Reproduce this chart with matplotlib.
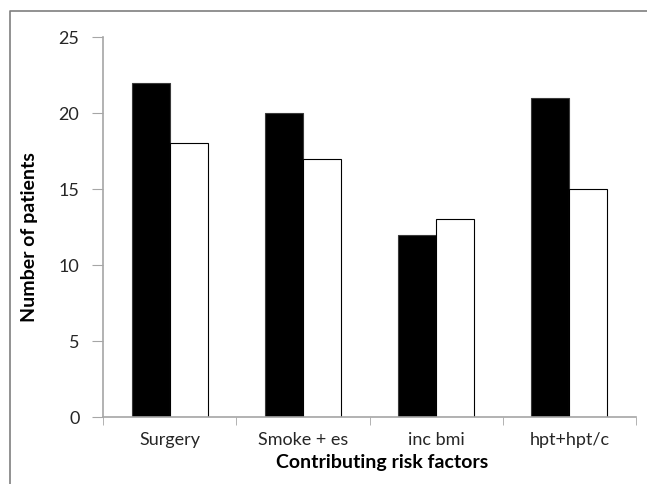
import matplotlib.pyplot as plt
import numpy as np
from matplotlib.lines import Line2D

categories = ['Surgery', 'Smoke + es', 'inc bmi', 'hpt+hpt/c']
black_vals = [22, 20, 12, 21]
white_vals = [18, 17, 13, 15]
y_ticks = [0, 5, 10, 15, 20, 25]

plt.rcParams['font.family'] = ['Lato', 'DejaVu Sans']

fig = plt.figure(figsize=(6.47, 4.85), dpi=100)
ax = fig.add_axes([103 / 647, 1 - 418 / 485, 533 / 647, 380 / 485])

# outer frame, only left and top edges are inside the picture
fx, fy = 10 / 647, 1 - 12 / 485
fig.lines.append(Line2D([fx, fx, 1.0], [0.0, fy, fy], transform=fig.transFigure,
                        color='#7f7f7f', linewidth=1.2))

x = np.arange(len(categories))
w = 0.286
ax.bar(x - w / 2, black_vals, w, color='black', edgecolor='#3a3a3a', linewidth=0.8)
ax.bar(x + w / 2, white_vals, w, color='white', edgecolor='black', linewidth=0.8)

ax.set_xlim(-0.5, len(categories) - 0.5)
ax.set_ylim(0, 25)
ax.set_yticks(y_ticks)
ax.set_xticks(x)
ax.set_xticklabels(categories)
ax.set_xticks(np.arange(len(categories) + 1) - 0.5, minor=True)
ax.tick_params(axis='x', which='major', length=0, pad=10)
ax.tick_params(axis='x', which='minor', length=6, color='#a6a6a6', direction='out')
ax.tick_params(axis='y', length=8, color='#a6a6a6', direction='out', pad=9)
ax.tick_params(labelsize=13, labelcolor='#262626')

for s in ['top', 'right']:
    ax.spines[s].set_visible(False)
for s in ['left', 'bottom']:
    ax.spines[s].set_color('#a6a6a6')
    ax.spines[s].set_linewidth(1.2)

ax.set_ylabel('Number of patients', fontsize=14, fontweight='bold')
ax.set_xlabel('Contributing risk factors', fontsize=14, fontweight='bold')
ax.yaxis.set_label_coords(-0.137, 0.476)
ax.xaxis.set_label_coords(0.523, -0.118)
ax.xaxis.label.set_va('center')
ax.yaxis.label.set_va('center')

fig.savefig('out.png', dpi=100)
